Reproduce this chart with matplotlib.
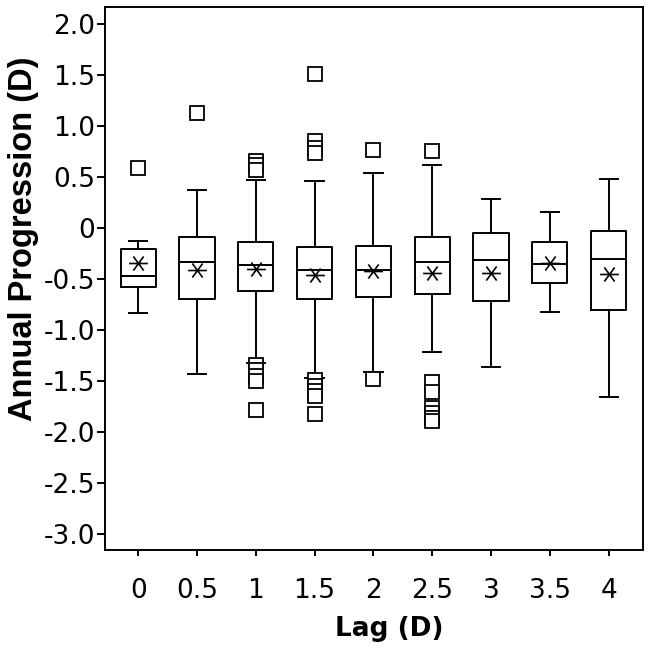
import matplotlib
matplotlib.use('Agg')
import matplotlib.pyplot as plt
from matplotlib.path import Path

plt.rcParams['font.family'] = ['DejaVu Sans']

# Data per kelompok lag
lags = ['0', '0.5', '1', '1.5', '2', '2.5', '3', '3.5', '4']
whisker_hi = [-0.13, 0.37, 0.47, 0.46, 0.54, 0.61, 0.28, 0.15, 0.48]
q3 = [-0.21, -0.09, -0.14, -0.19, -0.18, -0.09, -0.05, -0.14, -0.03]
median = [-0.47, -0.34, -0.37, -0.42, -0.42, -0.34, -0.32, -0.36, -0.31]
q1 = [-0.58, -0.70, -0.62, -0.70, -0.68, -0.65, -0.72, -0.54, -0.81]
whisker_lo = [-0.84, -1.43, -1.33, -1.47, -1.42, -1.22, -1.37, -0.83, -1.66]
mean = [-0.35, -0.42, -0.41, -0.46, -0.43, -0.44, -0.44, -0.35, -0.45]
outliers = [
    [0.58],
    [1.12],
    [0.65, 0.61, 0.56, -1.35, -1.40, -1.45, -1.50, -1.79],
    [1.51, 0.85, 0.78, 0.73, -1.49, -1.55, -1.60, -1.65, -1.83],
    [0.76, -1.48],
    [0.75, -1.51, -1.61, -1.77, -1.82, -1.87, -1.90],
    [],
    [],
    [],
]
yticks = [2.0, 1.5, 1.0, 0.5, 0, -0.5, -1.0, -1.5, -2.0, -2.5, -3.0]
ytick_labels = ['2.0', '1.5', '1.0', '0.5', '0', '-0.5', '-1.0', '-1.5',
                '-2.0', '-2.5', '-3.0']

stats = []
for i in range(len(lags)):
    stats.append({
        'med': median[i], 'q1': q1[i], 'q3': q3[i],
        'whislo': whisker_lo[i], 'whishi': whisker_hi[i],
        'mean': mean[i], 'fliers': outliers[i], 'label': lags[i],
    })

# tanda bintang lebar (garis horizontal + dua diagonal)
star = Path([(-1, 0), (1, 0), (-0.55, -0.75), (0.55, 0.75), (-0.55, 0.75), (0.55, -0.75)],
            [Path.MOVETO, Path.LINETO, Path.MOVETO, Path.LINETO, Path.MOVETO, Path.LINETO])

fig = plt.figure(figsize=(6.51, 6.55), dpi=100)
ax = fig.add_axes([0.1608, 0.1603, 0.8265, 0.8286])

lw = 1.4
ax.bxp(stats, positions=range(1, len(lags) + 1), widths=0.6, capwidths=0.31,
       showmeans=True, showfliers=True,
       boxprops=dict(color='black', linewidth=lw),
       whiskerprops=dict(color='black', linewidth=lw),
       capprops=dict(color='black', linewidth=lw),
       medianprops=dict(color='black', linewidth=lw),
       meanprops=dict(marker=star, markersize=13.5, markeredgecolor='black',
                      markerfacecolor='none', markeredgewidth=1.2),
       flierprops=dict(marker='s', markersize=9.5, markerfacecolor='white',
                       markeredgecolor='black', markeredgewidth=1.3))

ax.set_xlim(0.43, 9.58)
ax.set_ylim(-3.16, 2.16)
ax.set_yticks(yticks)
ax.set_yticklabels(ytick_labels)

for s in ax.spines.values():
    s.set_linewidth(1.4)

ax.tick_params(axis='y', labelsize=19, length=6, width=1.4, pad=1)
ax.tick_params(axis='x', labelsize=19, length=4, width=1.4, pad=16)

ax.set_xlabel('Lag (D)', fontsize=19, fontweight='bold')
ax.set_ylabel('Annual Progression (D)', fontsize=23.5, fontweight='bold',
              family='Liberation Sans')
ax.xaxis.set_label_coords(0.528, -0.122)
ax.yaxis.set_label_coords(-0.122, 0.573)

plt.savefig('out.png', dpi=100)
